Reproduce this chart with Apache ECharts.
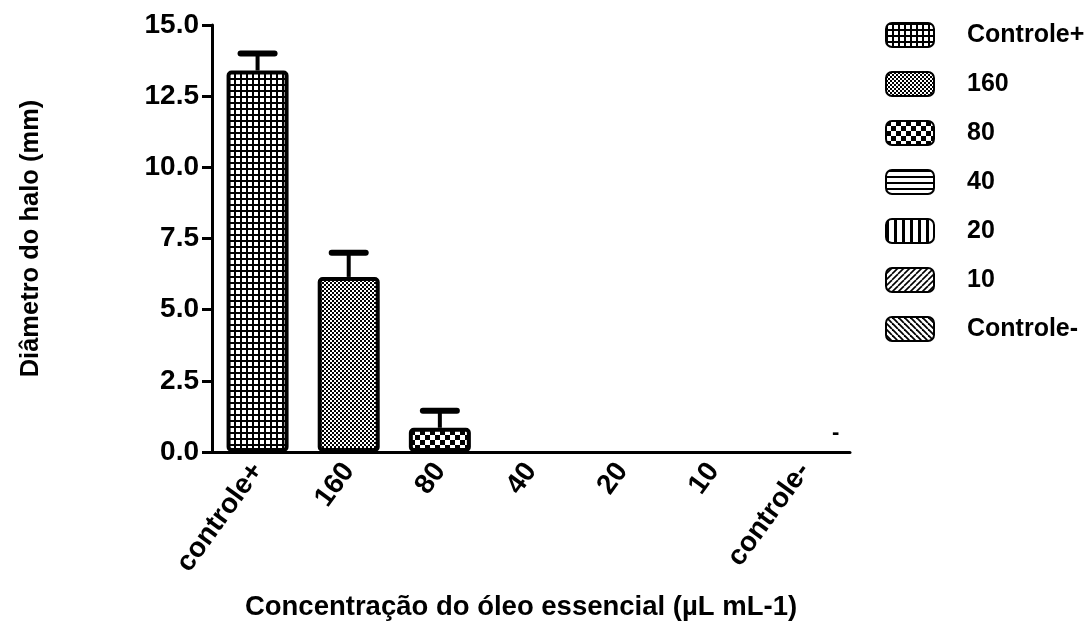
<!DOCTYPE html>
<html>
<head>
<meta charset="utf-8">
<script src="https://cdn.jsdelivr.net/npm/echarts@6/dist/echarts.min.js"></script>
<style>
  html, body { margin: 0; padding: 0; background: #fff; }
  #chart { width: 1091px; height: 623px; }
</style>
</head>
<body>
<div id="chart"></div>
<script>
// Halo diameter (mm) per essential-oil concentration
const categories = ['controle+', '160', '80', '40', '20', '10', 'controle-']
const legendNames = ['Controle+', '160', '80', '40', '20', '10', 'Controle-']
const means = [13.4, 6.15, 0.85, 0, 0, 0, 0]
const sems = [0.6, 0.85, 0.6, 0, 0, 0, 0]
const yTicks = [0, 2.5, 5, 7.5, 10, 12.5, 15]

const FONT = '"Liberation Sans", Arial, sans-serif'

// small canvas tiles used as hatch fills
function tile(w, h, draw) {
  const c = document.createElement('canvas')
  c.width = w
  c.height = h
  const ctx = c.getContext('2d')
  ctx.fillStyle = '#fff'
  ctx.fillRect(0, 0, w, h)
  ctx.fillStyle = '#000'
  ctx.strokeStyle = '#000'
  draw(ctx)
  return { image: c, repeat: 'repeat' }
}

const patterns = [
  // controle+ : fine square grid
  tile(6, 6, (ctx) => {
    ctx.fillRect(0, 0, 6, 2)
    ctx.fillRect(0, 0, 2, 6)
  }),
  // 160 : small checker dots
  tile(4, 4, (ctx) => {
    ctx.fillRect(0, 0, 2, 2)
    ctx.fillRect(2, 2, 2, 2)
  }),
  // 80 : large checker
  tile(10, 10, (ctx) => {
    ctx.fillRect(0, 0, 5, 5)
    ctx.fillRect(5, 5, 5, 5)
  }),
  // 40 : horizontal lines
  tile(6, 6, (ctx) => {
    ctx.fillRect(0, 0, 6, 2)
  }),
  // 20 : vertical lines
  tile(8, 8, (ctx) => {
    ctx.fillRect(0, 0, 3, 8)
  }),
  // 10 : forward diagonal
  tile(6, 6, (ctx) => {
    ctx.lineWidth = 1.6
    for (let k = -1; k <= 1; k++) {
      ctx.beginPath()
      ctx.moveTo(k * 6, 6)
      ctx.lineTo(k * 6 + 6, 0)
      ctx.stroke()
    }
  }),
  // controle- : back diagonal
  tile(6, 6, (ctx) => {
    ctx.lineWidth = 1.8
    for (let k = -1; k <= 1; k++) {
      ctx.beginPath()
      ctx.moveTo(k * 6, 0)
      ctx.lineTo(k * 6 + 6, 6)
      ctx.stroke()
    }
  }),
]

const barSeries = legendNames.map((name, i) => ({
  name: name,
  type: 'bar',
  stack: 'all',
  barWidth: 62,
  data: categories.map((_, j) => {
    if (j !== i) return '-'
    // a zero-height bar shows nothing but the axis
    return means[i] ? means[i] : { value: 0, itemStyle: { borderWidth: 0 } }
  }),
  itemStyle: {
    color: patterns[i],
    borderColor: '#000',
    borderWidth: 4,
    borderRadius: 3,
  },
  emphasis: { disabled: true },
  z: 2,
}))

const errorSeries = {
  type: 'custom',
  silent: true,
  z: 3,
  data: categories.map((_, i) => [i, means[i], sems[i]]),
  renderItem(params, api) {
    const idx = api.value(0)
    const m = api.value(1)
    const e = api.value(2)
    if (!e) return null
    const base = api.coord([idx, m])
    const top = api.coord([idx, m + e])
    const half = 17
    return {
      type: 'group',
      children: [
        { type: 'line', shape: { x1: base[0], y1: base[1], x2: top[0], y2: top[1] },
          style: { stroke: '#000', lineWidth: 4 } },
        { type: 'line', shape: { x1: top[0] - half, y1: top[1], x2: top[0] + half, y2: top[1] },
          style: { stroke: '#000', lineWidth: 6, lineCap: 'round' } },
      ],
    }
  },
}

const chart = echarts.init(document.getElementById('chart'))
chart.setOption({
  animation: false,
  backgroundColor: '#fff',
  textStyle: { fontFamily: FONT },
  grid: { left: 212, right: 241, top: 25, bottom: 171, outerBoundsMode: 'none', containLabel: false },
  legend: {
    orient: 'vertical',
    left: 880,
    top: 17,
    itemWidth: 48,
    itemHeight: 24,
    itemGap: 23,
    icon: 'roundRect',
    selectedMode: false,
    data: legendNames,
    textStyle: { fontFamily: FONT, fontWeight: 'bold', fontSize: 25, color: '#000', padding: [0, 0, 0, 28] },
  },
  xAxis: {
    type: 'category',
    data: categories,
    name: 'Concentração do óleo essencial (µL mL-1)',
    nameLocation: 'middle',
    nameGap: 141,
    nameTextStyle: { fontFamily: FONT, fontWeight: 'bold', fontSize: 27.5, color: '#000', padding: [0, 20, 0, 0] },
    axisLine: { lineStyle: { color: '#000', width: 3 } },
    axisTick: { alignWithLabel: true, length: 12, lineStyle: { color: '#000', width: 3 } },
    axisLabel: { rotate: 54, margin: 14, fontFamily: FONT, fontWeight: 'bold', fontSize: 28, color: '#000' },
  },
  yAxis: {
    type: 'value',
    min: yTicks[0],
    max: yTicks[yTicks.length - 1],
    interval: 2.5,
    name: 'Diâmetro do halo (mm)',
    nameLocation: 'middle',
    nameGap: 168,
    nameRotate: 90,
    nameTextStyle: { fontFamily: FONT, fontWeight: 'bold', fontSize: 25.5, color: '#000' },
    splitLine: { show: false },
    axisLine: { show: true, lineStyle: { color: '#000', width: 3 } },
    axisTick: { show: true, length: 10, lineStyle: { color: '#000', width: 3 } },
    axisLabel: {
      margin: 13,
      fontFamily: FONT, fontWeight: 'bold', fontSize: 28, color: '#000',
      formatter: (v) => v.toFixed(1),
    },
  },
  graphic: [
    { type: 'text', left: 832, top: 422, style: { text: '-', fontFamily: FONT, fontWeight: 'bold', fontSize: 22, fill: '#000' } },
  ],
  series: barSeries.concat([errorSeries]),
})
</script>
</body>
</html>
